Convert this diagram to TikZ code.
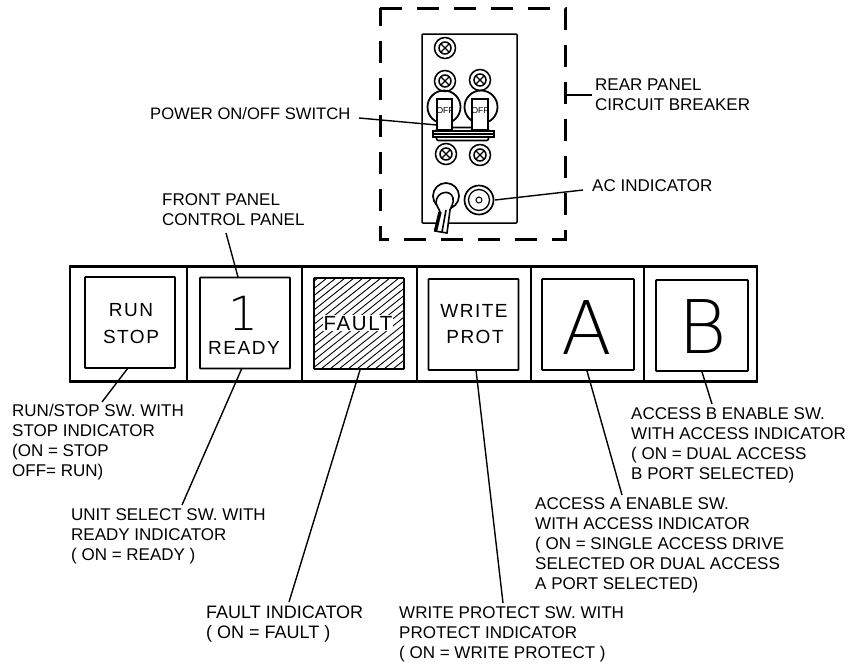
\documentclass[tikz,border=0pt]{standalone}
\usepackage{fontspec}
\setmainfont{Liberation Sans}
\newfontfamily\thinfont{DejaVu Sans ExtraLight}
\newfontfamily\capfont[LetterSpace=8]{Liberation Sans}
\begin{document}
\begin{tikzpicture}[x=1pt,y=-1pt,
  lbl/.style={anchor=north west,inner sep=0pt,align=left,font=\fontsize{17}{20}\selectfont},
  caption/.style={anchor=base,inner sep=0pt,font=\capfont\fontsize{19}{20}\selectfont},
  big/.style={anchor=base,inner sep=0pt,font=\thinfont\fontsize{74}{74}\selectfont},
  cell/.style={draw,line width=2.2pt,minimum height=115pt,inner sep=0pt,outer sep=0pt},
  keycap/.style={draw,line width=1.6pt,minimum width=90pt,minimum height=91pt,inner sep=0pt,outer sep=0pt,rounded corners=0.6pt},
  lead/.style={line width=1.4pt},
  screwo/.style={draw,line width=1.5pt,circle,inner sep=0pt,outer sep=0pt,minimum size=21pt},
  screwi/.style={draw,line width=1.5pt,circle,inner sep=0pt,outer sep=0pt,minimum size=12pt},
  brk/.style={draw,line width=1.8pt,circle,minimum size=33pt,inner sep=0pt,outer sep=0pt},
  paddle/.style={draw,fill=white,line width=1.5pt,inner sep=0pt,outer sep=0pt,minimum width=16pt,minimum height=31pt},
]
\useasboundingbox (0,0) rectangle (848,665);
% rear panel enclosure
\node[draw=none,inner sep=0pt,minimum width=185pt,minimum height=231pt] (rear) at (472.5,123.5) {};
\draw[line width=3pt,dash pattern=on 22pt off 15pt] (380,8) -- (565,8) -- (565,239) -- (380,239) -- cycle;
\node[draw,line width=1.5pt,rounded corners=1pt,minimum width=95pt,minimum height=189pt,inner sep=0pt,outer sep=0pt] (plate) at (469.5,128.5) {};
% screws
\foreach \n/\x/\y in {s1/445/48,s2/445/81,s3/480/80,s4/446/154,s5/480/155}{
  \node[screwo] (\n o) at (\x,\y) {};
  \node[screwi] (\n i) at (\x,\y) {};
  \draw[line width=1.2pt] (\n i.north west) -- (\n i.south east) (\n i.north east) -- (\n i.south west);
}
% breakers
\node[brk] (bl) at (444,107) {};
\node[brk] (br) at (481,107) {};
\node[draw,fill=white,line width=1.6pt,rounded corners=2pt,inner sep=0pt,outer sep=0pt,minimum width=52pt,minimum height=13pt] (body) at (462.5,134) {};
\node[draw,fill=white,line width=1.2pt,inner sep=0pt,outer sep=0pt,minimum width=61pt,minimum height=6pt] (bar) at (463.5,134) {};
\draw[line width=1.6pt] (bar.west) -- (bar.east);
\node[paddle,minimum width=15pt] (pl) at (444.5,114.5) {};
\node[paddle] (pr) at (480,114.5) {};
\node[inner sep=0pt,font=\fontsize{8.5}{10}\selectfont] (offl) at (445,111) {OFF};
\node[inner sep=0pt,font=\fontsize{8.5}{10}\selectfont] (offr) at (480,111) {OFF};
% toggle and AC indicator
\node[draw,line width=1.7pt,circle,minimum size=26pt,inner sep=0pt,outer sep=0pt] (tog) at (446,196) {};
\fill[white] (428,224) rectangle (455,234);
\draw[line width=1.6pt,fill=white] (436,203) .. controls (436,191) and (451,189) .. (453,198) .. controls (454,204) and (451,206) .. (450,210) -- (447,233) -- (435,231) -- (440,212) .. controls (439,208) and (436,206) .. (436,203) -- cycle;
\draw[line width=3.4pt] (435.5,231) -- (440,212);
\draw[line width=1.6pt] (446,210) -- (442,232);
\node[draw,line width=1.7pt,circle,minimum size=29pt,inner sep=0pt,outer sep=0pt] (aco) at (479,200) {};
\node[draw,line width=1.3pt,circle,minimum size=21pt,inner sep=0pt,outer sep=0pt] (acm) at (479,200) {};
\node[draw,line width=1pt,circle,minimum size=6pt,inner sep=0pt,outer sep=0pt] (aci) at (479,200) {};
% panel cells
\foreach \n/\a/\w in {c1/128.5/117,c2/244.5/115,c3/359.5/115,c4/474/114,c5/587.5/113,c6/700.5/113}{
  \node[cell,minimum width=\w pt] (\n) at (\a,324) {};
}
\node[keycap] (k1) at (130,322.5) {};
\node[keycap] (k2) at (245,323) {};
\node[keycap] (k3) at (359,323.5) {};
\node[keycap] (k4) at (473.5,324.5) {};
\node[keycap,minimum width=92pt] (k5) at (588,324.5) {};
\node[keycap,minimum width=92pt] (k6) at (702,325.5) {};
% hatching
\begin{scope}
\clip (k3.south west) rectangle (k3.north east);
\foreach \i in {0,...,23}{
  \draw[line width=0.9pt] (204+9*\i,369) -- (318+9*\i,278);
}
\end{scope}
% captions
\node[caption] (trun) at (131,316) {RUN};
\node[caption] (tstop) at (131,343) {STOP};
\node[big,font=\thinfont\fontsize{47}{47}\selectfont] (tone) at (243,330) {1};
\node[caption] (tready) at (244,354) {READY};
\node[caption,fill=white,inner sep=1pt,font=\capfont\fontsize{20.5}{20}\selectfont] (tfault) at (358,330) {FAULT};
\node[caption] (twrite) at (474,317) {WRITE};
\node[caption] (tprot) at (475,343) {PROT};
\node[big] (ta) at (587,354) {A};
\node[big] (tb) at (703,353) {B};
% labels
\node[lbl] (lrun) at (12,404) {RUN/STOP SW. WITH\\STOP INDICATOR\\(ON = STOP\\OFF= RUN)};
\node[lbl] (lunit) at (71,508) {UNIT SELECT SW. WITH\\READY INDICATOR\\( ON = READY )};
\node[lbl,font=\fontsize{18}{20}\selectfont] (lfault) at (206,606) {FAULT INDICATOR\\( ON = FAULT )};
\node[lbl] (lwrite) at (399,606) {WRITE PROTECT SW. WITH\\PROTECT INDICATOR\\( ON = WRITE PROTECT )};
\node[lbl] (la) at (535,497) {ACCESS A ENABLE SW.\\WITH ACCESS INDICATOR\\( ON = SINGLE ACCESS DRIVE\\SELECTED OR DUAL ACCESS\\A PORT SELECTED)};
\node[lbl] (lb) at (631,407) {ACCESS B ENABLE SW.\\WITH ACCESS INDICATOR\\( ON = DUAL ACCESS\\B PORT SELECTED)};
\node[lbl,font=\fontsize{16.6}{20}\selectfont] (lpower) at (150,107) {POWER ON/OFF SWITCH};
\node[lbl] (lfront) at (162,193) {FRONT PANEL\\CONTROL PANEL};
\node[lbl] (lrear) at (595,79) {REAR PANEL\\CIRCUIT BREAKER};
\node[lbl] (lac) at (592,179) {AC INDICATOR};
% leader ends
\coordinate (erun) at (102,402);
\coordinate (srun) at (128,368);
\coordinate (efront) at (226,233);
\coordinate (sfront) at (238,277);
\coordinate (epower) at (359,118);
\coordinate (spower) at (437,125);
\coordinate (srear) at (564,95);
\coordinate (erear) at (592,95);
\coordinate (sac) at (495,200);
\coordinate (eac) at (583,190);
\coordinate (sready) at (242,368);
\coordinate (eready) at (182,505);
\coordinate (sfault) at (360,370);
\coordinate (efault) at (289,602);
\coordinate (swrite) at (476,370);
\coordinate (ewrite) at (503,603);
\coordinate (sa) at (587,371);
\coordinate (ea) at (622,495);
\coordinate (sb) at (702,372);
\coordinate (eb) at (712,404);
\foreach \a/\b in {srun/erun,sfront/efront,spower/epower,srear/erear,sac/eac,sready/eready,sfault/efault,swrite/ewrite,sa/ea,sb/eb}{
  \draw[lead] (\a) -- (\b);
}
\end{tikzpicture}
\end{document}
